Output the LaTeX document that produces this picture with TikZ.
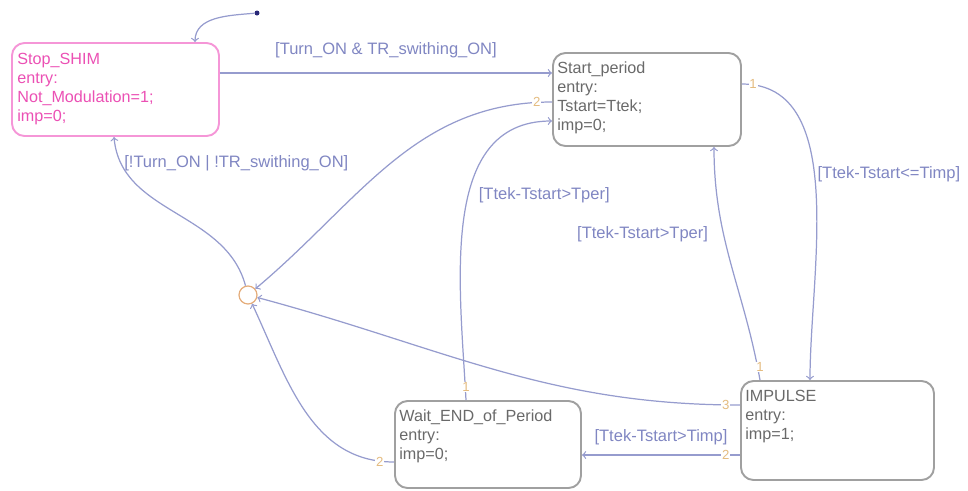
\documentclass[tikz,border=0pt]{standalone}
\usepackage{fontspec}
\setmainfont{Liberation Sans}
\usetikzlibrary{shapes}
\definecolor{trcol}{RGB}{150,156,206}
\definecolor{lblcol}{RGB}{128,134,194}
\definecolor{stcol}{RGB}{160,160,160}
\definecolor{sttext}{RGB}{105,105,105}
\definecolor{pinkcol}{RGB}{245,150,215}
\definecolor{pinktext}{RGB}{235,80,180}
\definecolor{juncol}{RGB}{228,172,122}
\definecolor{prcol}{RGB}{228,188,128}
\definecolor{dotcol}{RGB}{40,40,120}

\tikzset{
  state/.style={draw=stcol, line width=1.1pt, rounded corners=0.25cm, inner sep=0},
  active/.style={state, draw=pinkcol},
  statetext/.style={anchor=north west, inner sep=0, align=left, text=sttext, font=\fontsize{9.2}{10.8}\selectfont},
  trans/.style={draw=trcol, line width=0.7pt, ->},
  guard/.style={text=lblcol, font=\fontsize{9.4}{10}\selectfont, inner sep=0},
  prio/.style={text=prcol, font=\fontsize{7.5}{8}\selectfont, inner sep=0.5pt, fill=white},
}

\begin{document}
\begin{tikzpicture}
\useasboundingbox (0,0) rectangle (19.36,-9.8);

% states
\node[active, minimum width=4.14cm, minimum height=1.86cm] (stop) at (2.31,-1.79) {};
\node[statetext, text=pinktext] (stoptxt) at ([xshift=0.12cm, yshift=-0.22cm]stop.north west) {Stop\_SHIM\\entry:\\Not\_Modulation=1;\\imp=0;};
\node[state, minimum width=3.76cm, minimum height=1.86cm] (start) at (12.94,-1.99) {};
\node[statetext] (starttxt) at ([xshift=0.1cm, yshift=-0.18cm]start.north west) {Start\_period\\entry:\\Tstart=Ttek;\\imp=0;};
\node[state, minimum width=3.86cm, minimum height=1.98cm] (impulse) at (16.75,-8.61) {};
\node[statetext] (impulsetxt) at ([xshift=0.1cm, yshift=-0.2cm]impulse.north west) {IMPULSE\\entry:\\imp=1;};
\node[state, minimum width=3.72cm, minimum height=1.74cm] (wait) at (9.76,-8.89) {};
\node[statetext] (waittxt) at ([xshift=0.1cm, yshift=-0.18cm]wait.north west) {Wait\_END\_of\_Period\\entry:\\imp=0;};

% junction and default
\node[circle, draw=juncol, line width=0.7pt, minimum size=0.36cm, inner sep=0] (junc) at (4.96,-5.9) {};
\node[circle, fill=dotcol, minimum size=0.1cm, inner sep=0] (dot) at (5.14,-0.26) {};

% transitions
\draw[trans] (dot) to[out=185, in=90] ([xshift=1.59cm]stop.north);
\coordinate (s1) at ([yshift=0.33cm]stop.east);
\draw[trans] (s1) -- (s1 -| start.west) node[guard, midway, yshift=0.46cm] {[Turn\_ON \& TR\_swithing\_ON]};
\draw[trans] ([yshift=-0.05cm]start.west) to[out=180, in=40] node[prio, at start, left=0.2cm] {2} (junc);
\draw[trans] ([xshift=-0.44cm]wait.north) to[out=93, in=180] node[prio, at start, above=0.14cm] {1} node[guard, pos=0.57, right=0.2cm] {[Ttek-Tstart>Tper]} ([yshift=-0.43cm]start.west);
\draw[trans] ([xshift=-1.55cm]impulse.north) to[out=100, in=-90] node[prio, at start, above=0.14cm] {1} node[guard, pos=0.64, left=0.3cm] {[Ttek-Tstart>Tper]} ([xshift=1.34cm]start.south);
\draw[trans] ([yshift=0.31cm]start.east) to[out=0, in=90, looseness=0.9] node[prio, at start, right=0.12cm] {1} node[guard, pos=0.45, right=0.05cm] {[Ttek-Tstart<=Timp]} ([xshift=-0.55cm]impulse.north);
\coordinate (i2) at ([yshift=-0.49cm]impulse.west);
\draw[trans] (i2) -- (i2 -| wait.east) node[prio, at start, left=0.18cm] {2} node[guard, midway, yshift=0.36cm] {[Ttek-Tstart>Timp]};
\draw[trans] ([yshift=0.51cm]impulse.west) to[out=180, in=-15] node[prio, at start, left=0.18cm] {3} (junc);
\draw[trans] ([yshift=-0.35cm]wait.west) to[out=180, in=-65] node[prio, at start, left=0.18cm] {2} (junc);
\draw[trans] (junc) to[out=105, in=-85] node[guard, pos=0.87, right=0.05cm] {[!Turn\_ON | !TR\_swithing\_ON]} ([xshift=-0.03cm]stop.south);
\end{tikzpicture}
\end{document}
